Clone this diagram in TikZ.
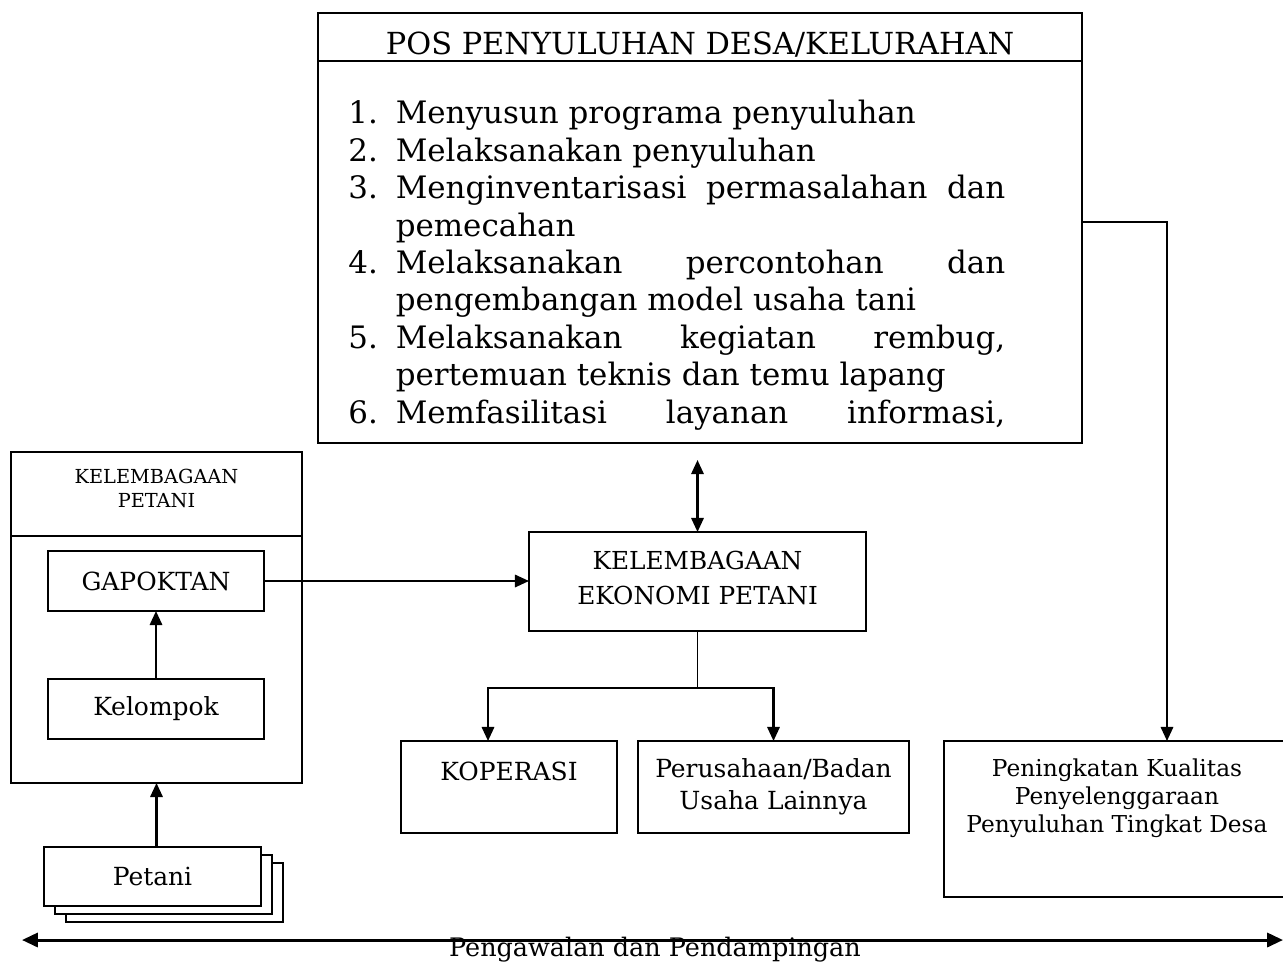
\documentclass[tikz,border=0pt]{standalone}
\usepackage{fontspec}
\setmainfont{DejaVu Serif}
\usetikzlibrary{positioning,arrows.meta}

\newlength{\indenpoin}
\setlength{\indenpoin}{27pt}
\newcommand{\poin}[2]{\par\hangindent=\indenpoin\hangafter=1\noindent\makebox[\indenpoin][l]{#1.}#2}

\begin{document}
\begin{tikzpicture}[
	x=0.02cm,y=-0.02cm,
	box/.style={draw,line width=1.4pt,outer sep=0pt,inner sep=2pt,align=center,fill=white},
	lbl/.style={font=\fontsize{14.2}{18}\selectfont},
	arr/.style={-{Triangle[length=8pt,width=7pt]},line width=1.3pt},
	darr/.style={{Triangle[length=8pt,width=7pt]}-{Triangle[length=8pt,width=7pt]},line width=1.3pt},
]
\useasboundingbox (0,0) rectangle (1283,964);
% pos penyuluhan
\node[box,minimum width=15.28cm,minimum height=0.96cm,text height=21pt,text depth=1pt,font=\fontsize{17.3}{20}\selectfont] (posT) at (700,37) {POS PENYULUHAN DESA/KELURAHAN};
\node[box,minimum width=15.28cm,minimum height=7.64cm,below=0pt of posT] (posB) {};
\node[anchor=north west,inner sep=0pt,text width=13.14cm,align=justify,font=\fontsize{17.6}{21.3}\selectfont] (posL) at (348,86) {
	\poin{1}{Menyusun programa penyuluhan}
	\poin{2}{Melaksanakan penyuluhan}
	\poin{3}{Menginventarisasi permasalahan dan\linebreak pemecahan}
	\poin{4}{Melaksanakan percontohan dan\linebreak pengembangan model usaha tani}
	\poin{5}{Melaksanakan kegiatan rembug,\linebreak pertemuan teknis dan temu lapang}
	\poin{6}{Memfasilitasi layanan informasi,}{\parfillskip=0pt\par}
};
% kelembagaan petani
\node[box,minimum width=5.82cm,minimum height=1.68cm,text depth=6.5pt,font=\fontsize{11}{13.6}\selectfont] (kpT) at (156.5,494) {KELEMBAGAAN\\PETANI};
\node[box,minimum width=5.82cm,minimum height=4.94cm,below=0pt of kpT] (kpB) {};
\node[box,minimum width=4.32cm,minimum height=1.2cm,lbl] (gap) at (156,581) {GAPOKTAN};
\node[box,minimum width=4.32cm,minimum height=1.2cm,lbl] (kel) at (156,709) {Kelompok};
\foreach \k in {2,1}
	\node[box,minimum width=4.34cm,minimum height=1.18cm] (pt\k) at (152.5+11*\k,876.5+8*\k) {};
\node[box,minimum width=4.34cm,minimum height=1.18cm,lbl] (pet) at (152.5,876.5) {Petani};
% kelembagaan ekonomi
\node[box,minimum width=6.74cm,minimum height=1.98cm,text depth=4pt,font=\fontsize{14.1}{20}\selectfont] (kep) at (697.5,581.5) {KELEMBAGAAN\\EKONOMI PETANI};
\node[box,minimum width=4.32cm,minimum height=1.84cm,lbl] (kop) at (509,787) {KOPERASI\\~};
\node[box,minimum width=5.42cm,minimum height=1.84cm,lbl] (per) at (773.5,787) {Perusahaan/Badan\\Usaha Lainnya};
\node[box,minimum width=6.92cm,minimum height=3.12cm,font=\fontsize{13.25}{16}\selectfont] (pk) at (1117,819) {Peningkatan Kualitas\\Penyelenggaraan\\Penyuluhan Tingkat Desa\\~\\[-5pt]~};
% hubungan
\draw[arr] (kel) -- (gap);
\draw[arr] (kpB.south |- pet.north) -- (kpB.south);
\draw[arr] (gap.east) -- (gap.east -| kep.west);
\draw[darr] (kep.north) -- ++(0,-72);
\draw[line width=0.8pt] (kep.south) -- ++(0,57) coordinate (cab);
\draw[arr] (cab) -| ([xshift=-0.42cm]kop.north);
\draw[arr] (cab) -| (per.north);
\draw[arr] ([yshift=0.6cm]posB.east) -| ([xshift=1cm]pk.north);
\coordinate (ujkiri) at (22,940);
\coordinate (ujkanan) at (1283,940);
\draw[{Triangle[length=9pt,width=8pt]}-{Triangle[length=9pt,width=8pt]},line width=1.7pt] (ujkiri) -- (ujkanan);
\node[font=\fontsize{14.5}{16}\selectfont] (kawal) at (655,950) {Pengawalan dan Pendampingan};
\end{tikzpicture}
\end{document}
